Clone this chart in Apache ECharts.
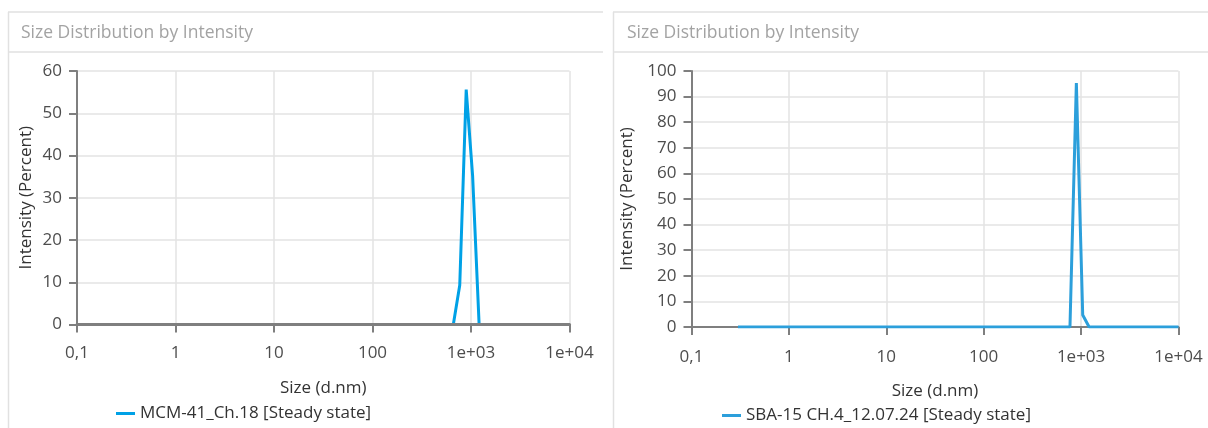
<!DOCTYPE html>
<html>
<head>
<meta charset="utf-8">
<script src="https://cdn.jsdelivr.net/npm/echarts@6/dist/echarts.min.js"></script>
<style>
  html, body { margin: 0; padding: 0; background: #ffffff; }
  #chart { width: 1208px; height: 428px; }
</style>
</head>
<body>
<div id="chart"></div>
<script>
// Size classes (d.nm) and intensity (%) for the two DLS measurements
const sizes = [0.3, 661.6, 768.6, 894.0, 1039, 1209, 10000];
const mcmIntensity = [0, 0, 9.3, 55.6, 35.1, 0, 0];
const sbaIntensity = [0, 0, 0, 95.3, 4.7, 0, 0];

const seriesNames = ['MCM-41_Ch.18 [Steady state]', 'SBA-15 CH.4_12.07.24 [Steady state]'];
const panelTitle = 'Size Distribution by Intensity';
const xTickLabels = ['0,1', '1', '10', '100', '1e+03', '1e+04'];
const yTicksLeft = [0, 10, 20, 30, 40, 50, 60];
const yTicksRight = [0, 10, 20, 30, 40, 50, 60, 70, 80, 90, 100];

const FONT = '"Open Sans", "Noto Sans", sans-serif';
const FS = 17;
const AXIS_GRAY = '#7f7f7f';
const GRID_GRAY = '#e3e3e3';
const BORDER_GRAY = '#e1e1e1';

function pairs(xs, ys) {
  return xs.map((x, i) => [x, ys[i]]);
}

function xLabel(v) {
  const idx = Math.round(Math.log10(v)) + 1;
  return xTickLabels[idx] !== undefined ? xTickLabels[idx] : '';
}

function makeXAxis(gridIndex, labelMargin, nameGap, extra) {
  return Object.assign({
    type: 'log',
    logBase: 10,
    gridIndex: gridIndex,
    position: 'bottom',
    min: 0.1,
    max: 10000,
    name: 'Size (d.nm)',
    nameLocation: 'middle',
    nameGap: nameGap,
    nameTextStyle: { color: '#333333', fontFamily: FONT, fontSize: FS },
    axisLine: { show: true, onZero: false, lineStyle: { color: AXIS_GRAY, width: 2 } },
    axisTick: { show: true, length: 8, lineStyle: { color: AXIS_GRAY, width: 2 } },
    minorTick: { show: false },
    axisLabel: { color: '#4d4d4d', fontFamily: FONT, fontSize: FS, margin: labelMargin, formatter: xLabel },
    splitLine: { show: true, lineStyle: { color: GRID_GRAY, width: 1.5 } }
  }, extra || {});
}

function makeYAxis(gridIndex, max, ticks, nameGap) {
  return {
    type: 'value',
    gridIndex: gridIndex,
    min: 0,
    max: max,
    interval: 10,
    name: 'Intensity (Percent)',
    nameLocation: 'middle',
    nameGap: nameGap,
    nameTextStyle: { color: '#333333', fontFamily: FONT, fontSize: FS },
    axisLine: { show: true, lineStyle: { color: AXIS_GRAY, width: 2 } },
    axisTick: { show: true, length: 8, lineStyle: { color: AXIS_GRAY, width: 2 } },
    axisLabel: {
      color: '#4d4d4d', fontFamily: FONT, fontSize: FS, margin: 15,
      formatter: v => (ticks.indexOf(v) >= 0 ? String(v) : '')
    },
    splitLine: { show: true, lineStyle: { color: GRID_GRAY, width: 1.5 } }
  };
}

const chart = echarts.init(document.getElementById('chart'), null, { renderer: 'canvas' });

const option = {
  animation: false,
  backgroundColor: '#ffffff',
  textStyle: { fontFamily: FONT },
  graphic: [
    // left panel frame
    { type: 'line', shape: { x1: 8, y1: 12, x2: 603, y2: 12 }, style: { stroke: BORDER_GRAY, lineWidth: 1.5 } },
    { type: 'line', shape: { x1: 8, y1: 52, x2: 603, y2: 52 }, style: { stroke: BORDER_GRAY, lineWidth: 1.5 } },
    { type: 'line', shape: { x1: 8.5, y1: 12, x2: 8.5, y2: 428 }, style: { stroke: BORDER_GRAY, lineWidth: 1.5 } },
    // right panel frame
    { type: 'line', shape: { x1: 613, y1: 12, x2: 1208, y2: 12 }, style: { stroke: BORDER_GRAY, lineWidth: 1.5 } },
    { type: 'line', shape: { x1: 613, y1: 52, x2: 1208, y2: 52 }, style: { stroke: BORDER_GRAY, lineWidth: 1.5 } },
    { type: 'line', shape: { x1: 613.5, y1: 12, x2: 613.5, y2: 428 }, style: { stroke: BORDER_GRAY, lineWidth: 1.5 } },
    // panel titles
    { type: 'text', x: 21, y: 33, style: { text: panelTitle, fill: '#a3a3a3', font: '17.5px ' + FONT, textVerticalAlign: 'middle' } },
    { type: 'text', x: 627, y: 33, style: { text: panelTitle, fill: '#a3a3a3', font: '17.5px ' + FONT, textVerticalAlign: 'middle' } }
  ],
  grid: [
    { left: 77, top: 71, width: 492.5, height: 253.5, containLabel: false },
    { left: 691.5, top: 71, width: 487, height: 256, containLabel: false }
  ],
  legend: [
    {
      data: [seriesNames[0]], left: 116, top: 405, padding: 0,
      icon: 'rect', itemWidth: 19, itemHeight: 3, itemGap: 5,
      textStyle: { color: '#333333', fontFamily: FONT, fontSize: FS }
    },
    {
      data: [seriesNames[1]], left: 722, top: 407, padding: 0,
      icon: 'rect', itemWidth: 19, itemHeight: 3, itemGap: 5,
      textStyle: { color: '#333333', fontFamily: FONT, fontSize: FS }
    }
  ],
  xAxis: [
    makeXAxis(0, 20, 55),
    makeXAxis(1, 22, 56),
    // baseline drawn above the left series
    makeXAxis(0, 20, 55, {
      name: '', z: 5,
      axisLine: { show: true, onZero: false, lineStyle: { color: AXIS_GRAY, width: 3 } },
      axisTick: { show: false }, axisLabel: { show: false }, splitLine: { show: false }
    })
  ],
  yAxis: [
    makeYAxis(0, 60, yTicksLeft, 42),
    makeYAxis(1, 100, yTicksRight, 56)
  ],
  series: [
    {
      name: seriesNames[0], type: 'line', xAxisIndex: 0, yAxisIndex: 0,
      data: pairs(sizes, mcmIntensity), showSymbol: false, symbol: 'none',
      color: '#00a1e6', lineStyle: { color: '#00a1e6', width: 3 }
    },
    {
      name: seriesNames[1], type: 'line', xAxisIndex: 1, yAxisIndex: 1,
      data: pairs(sizes, sbaIntensity), showSymbol: false, symbol: 'none',
      color: '#2c9fdb', lineStyle: { color: '#2c9fdb', width: 3 }
    }
  ]
};

chart.setOption(option);
</script>
</body>
</html>
